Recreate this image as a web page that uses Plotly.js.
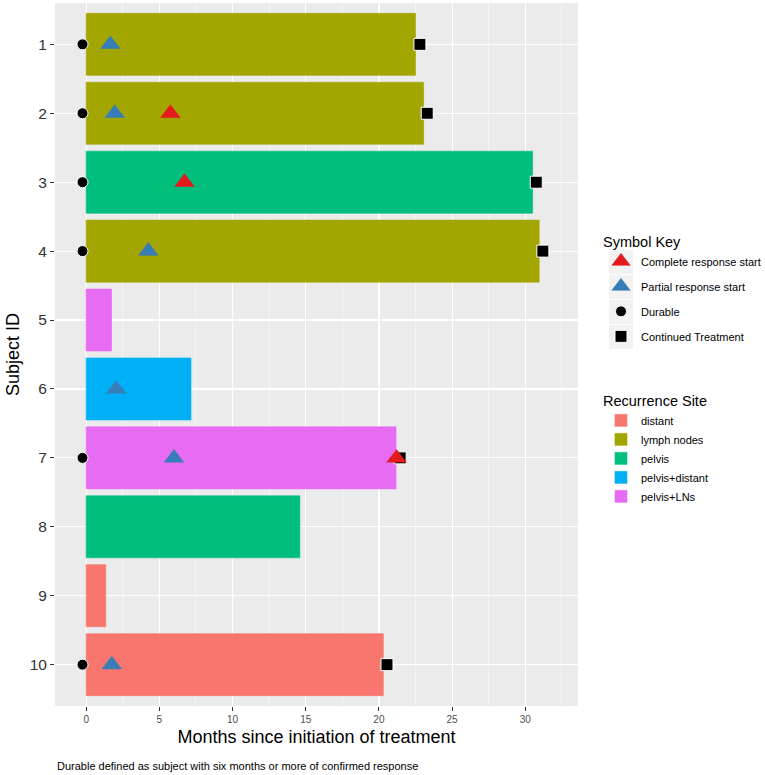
<!DOCTYPE html>
<html>
<head>
<meta charset="utf-8">
<script src="https://cdn.plot.ly/plotly-3.0.1.min.js"></script>
<style>html,body{margin:0;padding:0;background:#fff;}#chart{width:765px;height:775px;}</style>
</head>
<body>
<div id="chart"></div>
<script>
// ---- data ----
const subjects = [1, 2, 3, 4, 5, 6, 7, 8, 9, 10];
const months = [22.5, 23.05, 30.5, 30.95, 1.73, 7.16, 21.17, 14.6, 1.34, 20.3];
const sites = ['lymph nodes', 'lymph nodes', 'pelvis', 'lymph nodes', 'pelvis+LNs',
               'pelvis+distant', 'pelvis+LNs', 'pelvis', 'distant', 'distant'];
const siteNames = ['distant', 'lymph nodes', 'pelvis', 'pelvis+distant', 'pelvis+LNs'];
const siteColors = ['#F8766D', '#A3A500', '#00BF7D', '#00B0F6', '#E76BF3'];

const completeSubjects = [2, 3, 7];
const completeMonths = [5.75, 6.72, 21.2];
const partialSubjects = [1, 2, 4, 6, 7, 10];
const partialMonths = [1.65, 1.95, 4.25, 2.05, 6.0, 1.75];
const durableSubjects = [1, 2, 3, 4, 7, 10];
const durableMonths = [-0.25, -0.25, -0.25, -0.25, -0.25, -0.25];
const continuedSubjects = [1, 2, 3, 4, 7, 10];
const continuedMonths = [22.8, 23.3, 30.75, 31.2, 21.45, 20.55];

const xTicks = [0, 5, 10, 15, 20, 25, 30];

// ---- traces ----
const FONT = 'Liberation Sans, Arial, sans-serif';
const traces = [];

siteNames.forEach((name, k) => {
  const ys = [], xs = [];
  subjects.forEach((s, i) => { if (sites[i] === name) { ys.push(s); xs.push(months[i]); } });
  traces.push({
    type: 'bar', orientation: 'h', name: name, y: ys, x: xs, base: 0, width: 0.9,
    marker: { color: siteColors[k], line: { color: siteColors[k], width: 0.6 } },
    legend: 'legend2', legendrank: k + 1, hoverinfo: 'x+y'
  });
});

traces.push({
  type: 'scatter', mode: 'markers', name: 'Durable', x: durableMonths, y: durableSubjects,
  marker: { symbol: 'circle', size: 11, color: '#000', line: { color: '#fff', width: 1 } },
  legend: 'legend', legendgroup: 'd', legendrank: 3
});
traces.push({
  type: 'scatter', mode: 'markers', name: 'Continued Treatment', x: continuedMonths, y: continuedSubjects,
  marker: { symbol: 'square', size: 12, color: '#000', line: { color: '#fff', width: 1 } },
  legend: 'legend', legendgroup: 'c', legendrank: 4
});
traces.push({
  type: 'scatter', mode: 'markers', name: 'Partial response start', x: partialMonths, y: partialSubjects,
  marker: { symbol: 'triangle-up', size: 17, color: '#377EB8', line: { color: '#377EB8', width: 0.5 } },
  legend: 'legend', legendgroup: 'p', legendrank: 2
});
traces.push({
  type: 'scatter', mode: 'markers', name: 'Complete response start', x: completeMonths, y: completeSubjects,
  marker: { symbol: 'triangle-up', size: 17, color: '#E41A1C', line: { color: '#E41A1C', width: 0.5 } },
  legend: 'legend', legendgroup: 'r', legendrank: 1
});

// legend key backgrounds (paper coordinates, plot area 55..578 x 3..706 px)
const keyBoxes = [250, 275, 300, 325].map(top => ({
  type: 'rect', xref: 'paper', yref: 'paper', layer: 'above',
  x0: (609 - 55) / 523, x1: (633 - 55) / 523,
  y0: (706 - (top + 24)) / 703, y1: (706 - top) / 703,
  fillcolor: '#F2F2F2', line: { width: 0 }
}));

const layout = {
  width: 765, height: 775,
  margin: { l: 55, r: 187, t: 3, b: 69 },
  paper_bgcolor: '#ffffff', plot_bgcolor: '#EBEBEB',
  font: { family: FONT, color: '#000' },
  barmode: 'overlay',
  xaxis: {
    range: [-2.13, 33.6], tickvals: xTicks, ticktext: xTicks.map(String),
    showgrid: true, gridcolor: '#ffffff', gridwidth: 1.2, zeroline: false,
    minor: { tick0: 0, dtick: 2.5, showgrid: true, gridcolor: '#ffffff', gridwidth: 0.5 },
    ticks: 'outside', ticklen: 4, tickcolor: '#333333', tickwidth: 1,
    tickfont: { size: 10, color: '#4D4D4D', family: FONT },
    showline: false, automargin: false,
    title: { text: 'Months since initiation of treatment', font: { size: 18, color: '#000', family: FONT }, standoff: 6 }
  },
  yaxis: {
    range: [10.6, 0.4], tickvals: subjects, ticktext: subjects.map(String),
    showgrid: true, gridcolor: '#ffffff', gridwidth: 1.2, zeroline: false,
    ticks: 'outside', ticklen: 4, tickcolor: '#333333', tickwidth: 1,
    tickfont: { size: 15.5, color: '#333333', family: FONT },
    automargin: false,
    title: { text: 'Subject ID', font: { size: 18, color: '#000', family: FONT }, standoff: 5 }
  },
  legend: {
    title: { text: 'Symbol Key', font: { size: 14.5, family: FONT, color: '#000' } },
    xref: 'container', yref: 'container',
    x: 601 / 765, xanchor: 'left', y: 1 - 228 / 775, yanchor: 'top',
    font: { size: 11, family: FONT, color: '#000' },
    bgcolor: 'rgba(0,0,0,0)', tracegroupgap: 6, itemwidth: 30, traceorder: 'grouped'
  },
  legend2: {
    title: { text: 'Recurrence Site', font: { size: 14.5, family: FONT, color: '#000' } },
    xref: 'container', yref: 'container',
    x: 601 / 765, xanchor: 'left', y: 1 - 387 / 775, yanchor: 'top',
    font: { size: 11, family: FONT, color: '#000' },
    bgcolor: 'rgba(0,0,0,0)', tracegroupgap: 0, itemwidth: 30, traceorder: 'normal'
  },
  shapes: keyBoxes,
  annotations: [{
    text: 'Durable defined as subject with six months or more of confirmed response',
    xref: 'paper', yref: 'paper', x: 0, y: -0.085, xanchor: 'left', yanchor: 'middle',
    showarrow: false, font: { size: 11, family: FONT, color: '#000' }
  }]
};

Plotly.newPlot('chart', traces, layout, { displayModeBar: false, staticPlot: true });
</script>
</body>
</html>
